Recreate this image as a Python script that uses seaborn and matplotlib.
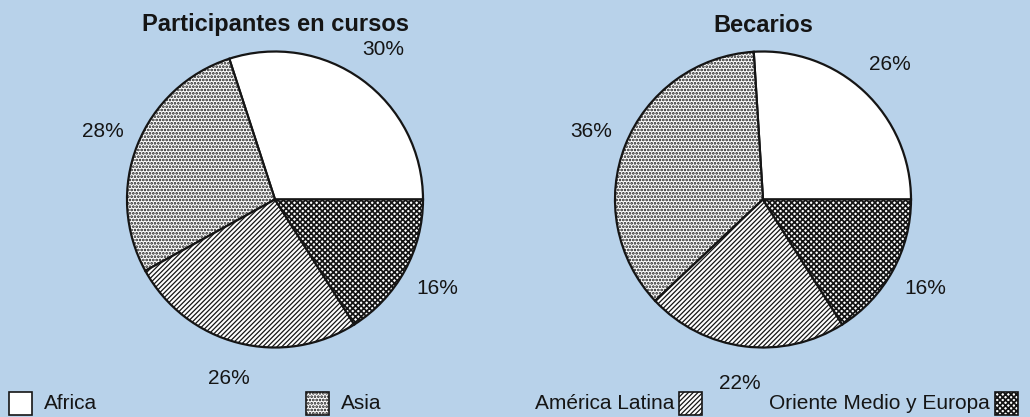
import matplotlib
matplotlib.use('Agg')
import matplotlib.pyplot as plt
from matplotlib.patches import Rectangle
import seaborn as sns

# ---- data ----
regions = ["Africa", "Asia", "América Latina", "Oriente Medio y Europa"]
participantes = [30, 28, 26, 16]
becarios = [26, 36, 22, 16]
titles = ["Participantes en cursos", "Becarios"]

# ---- style ----
hatches = ['', '.....', '///////', 'xxxxxx']
hatch_lw = [1.0, 1.3, 0.9, 1.25]
bg = '#b8d2ea'
ink = '#151515'

sns.set_theme(style='white')
plt.rcParams['font.family'] = ['Liberation Sans', 'DejaVu Sans']
plt.rcParams['hatch.linewidth'] = 1.0
plt.rcParams['hatch.color'] = ink

W, H = 1030, 417
fig = plt.figure(figsize=(W / 100, H / 100), dpi=100, facecolor=bg)


def set_hlw(artist, lw):
    if hasattr(artist, 'set_hatch_linewidth'):
        artist.set_hatch_linewidth(lw)


def px_axes(cx, cy, r):
    return fig.add_axes([(cx - r) / W, (H - cy - r) / H, 2 * r / W, 2 * r / H])


for cx, data, title in [(275, participantes, titles[0]), (763, becarios, titles[1])]:
    ax = px_axes(cx, 199.5, 148)
    ax.set_facecolor('none')
    wedges, texts, autotexts = ax.pie(
        data, startangle=0, counterclock=True, colors=['white'] * len(data),
        autopct=lambda p: f'{p:.0f}%', pctdistance=1.25,
        wedgeprops=dict(edgecolor=ink, linewidth=1.6),
        textprops=dict(fontsize=15, color=ink))
    for w, h, lw in zip(wedges, hatches, hatch_lw):
        w.set_hatch(h)
        set_hlw(w, lw)
    ax.set_xlim(-1, 1)
    ax.set_ylim(-1, 1)
    ax.axis('off')
    fig.text(cx / W, (H - 25) / H, title, ha='center', va='center',
             fontsize=17, fontweight='bold', color=ink)

# ---- legend ----
box = 23
items = [
    (regions[0], 0, 9, 'right'),
    (regions[1], 1, 306, 'right'),
    (regions[2], 2, 679, 'left'),
    (regions[3], 3, 995, 'left'),
]
ytop = 392
for label, i, bx, side in items:
    r = Rectangle((bx / W, (H - ytop - box) / H), box / W, box / H,
                  transform=fig.transFigure, facecolor='white',
                  edgecolor=ink, linewidth=1.2, hatch=hatches[i])
    set_hlw(r, hatch_lw[i])
    fig.add_artist(r)
    yc = (H - (ytop + box / 2)) / H
    if side == 'right':
        fig.text((bx + box + 12) / W, yc, label, ha='left', va='center',
                 fontsize=15, color=ink)
    else:
        fig.text((bx - 5) / W, yc, label, ha='right', va='center',
                 fontsize=15, color=ink)

fig.savefig('out.png', dpi=100, facecolor=bg)
